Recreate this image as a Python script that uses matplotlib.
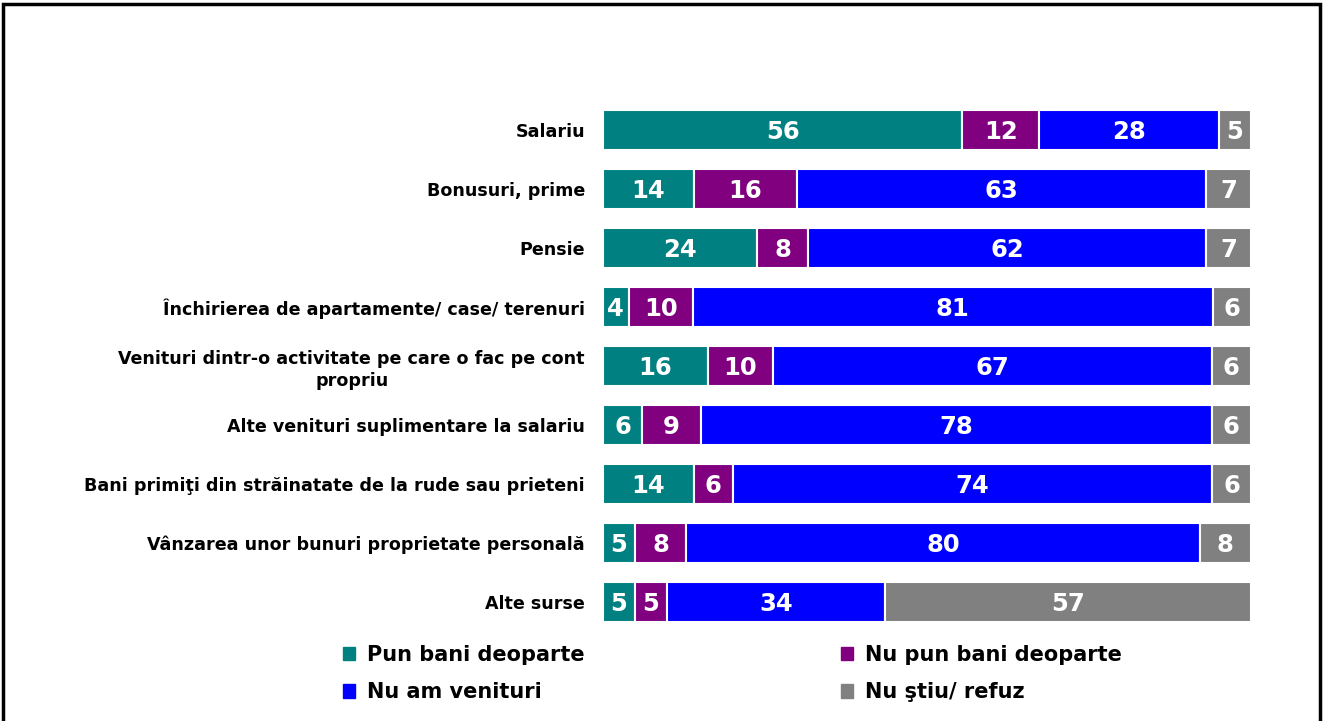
import matplotlib
matplotlib.use("Agg")
import matplotlib.pyplot as plt
from matplotlib.patches import Patch, Rectangle
import numpy as np

categories = [
    "Salariu",
    "Bonusuri, prime",
    "Pensie",
    "Închirierea de apartamente/ case/ terenuri",
    "Venituri dintr-o activitate pe care o fac pe cont\npropriu",
    "Alte venituri suplimentare la salariu",
    "Bani primiţi din străinatate de la rude sau prieteni",
    "Vânzarea unor bunuri proprietate personală",
    "Alte surse",
]
series_names = ["Pun bani deoparte", "Nu pun bani deoparte", "Nu am venituri", "Nu ştiu/ refuz"]
pun = [56, 14, 24, 4, 16, 6, 14, 5, 5]
nu_pun = [12, 16, 8, 10, 10, 9, 6, 8, 5]
nu_am = [28, 63, 62, 81, 67, 78, 74, 80, 34]
nu_stiu = [5, 7, 7, 6, 6, 6, 6, 8, 57]
colors = ["#008080", "#800080", "#0000FF", "#808080"]

plt.rcParams['font.family'] = ['DejaVu Sans']
fig = plt.figure(figsize=(13.24, 7.21), dpi=100)
ax = fig.add_axes([0.4554, 0.1241, 0.4895, 0.7365])

data = np.array([pun, nu_pun, nu_am, nu_stiu], dtype=float)
totals = data.sum(axis=0)
y = np.arange(len(categories))
left = np.zeros(len(categories))
for i in range(4):
    w = data[i] / totals * 100
    ax.barh(y, w, left=left, height=0.68, color=colors[i], edgecolor="white", linewidth=1.5)
    for j in range(len(categories)):
        ax.text(left[j] + w[j] / 2, y[j] + 0.03, f"{int(data[i][j])}", ha="center", va="center",
                color="white", fontsize=17.5, fontweight="bold")
    left += w

ax.set_xlim(0, 100)
ax.set_ylim(len(categories) - 0.5, -0.5)
ax.set_yticks(y)
ax.set_yticklabels(categories, fontsize=12.6, fontweight="bold", multialignment="center",
                   linespacing=1.25)
ax.tick_params(axis="y", length=0, pad=13)
ax.set_xticks([])
for s in ax.spines.values():
    s.set_visible(False)

handles = [Patch(color=colors[k]) for k in [0, 2, 1, 3]]
labels = [series_names[k] for k in [0, 2, 1, 3]]
fig.legend(handles, labels, ncol=2, loc="center", bbox_to_anchor=(0.553, 0.066), frameon=False,
           prop={"weight": "bold", "size": 15}, handlelength=0.6, handleheight=0.6,
           handletextpad=0.55, columnspacing=12.3, labelspacing=0.85)

fig.patches.append(Rectangle((0.002, -0.01), 0.995, 1.004, transform=fig.transFigure,
                             fill=False, edgecolor="black", linewidth=2.5))

fig.savefig("out.png", dpi=100)
